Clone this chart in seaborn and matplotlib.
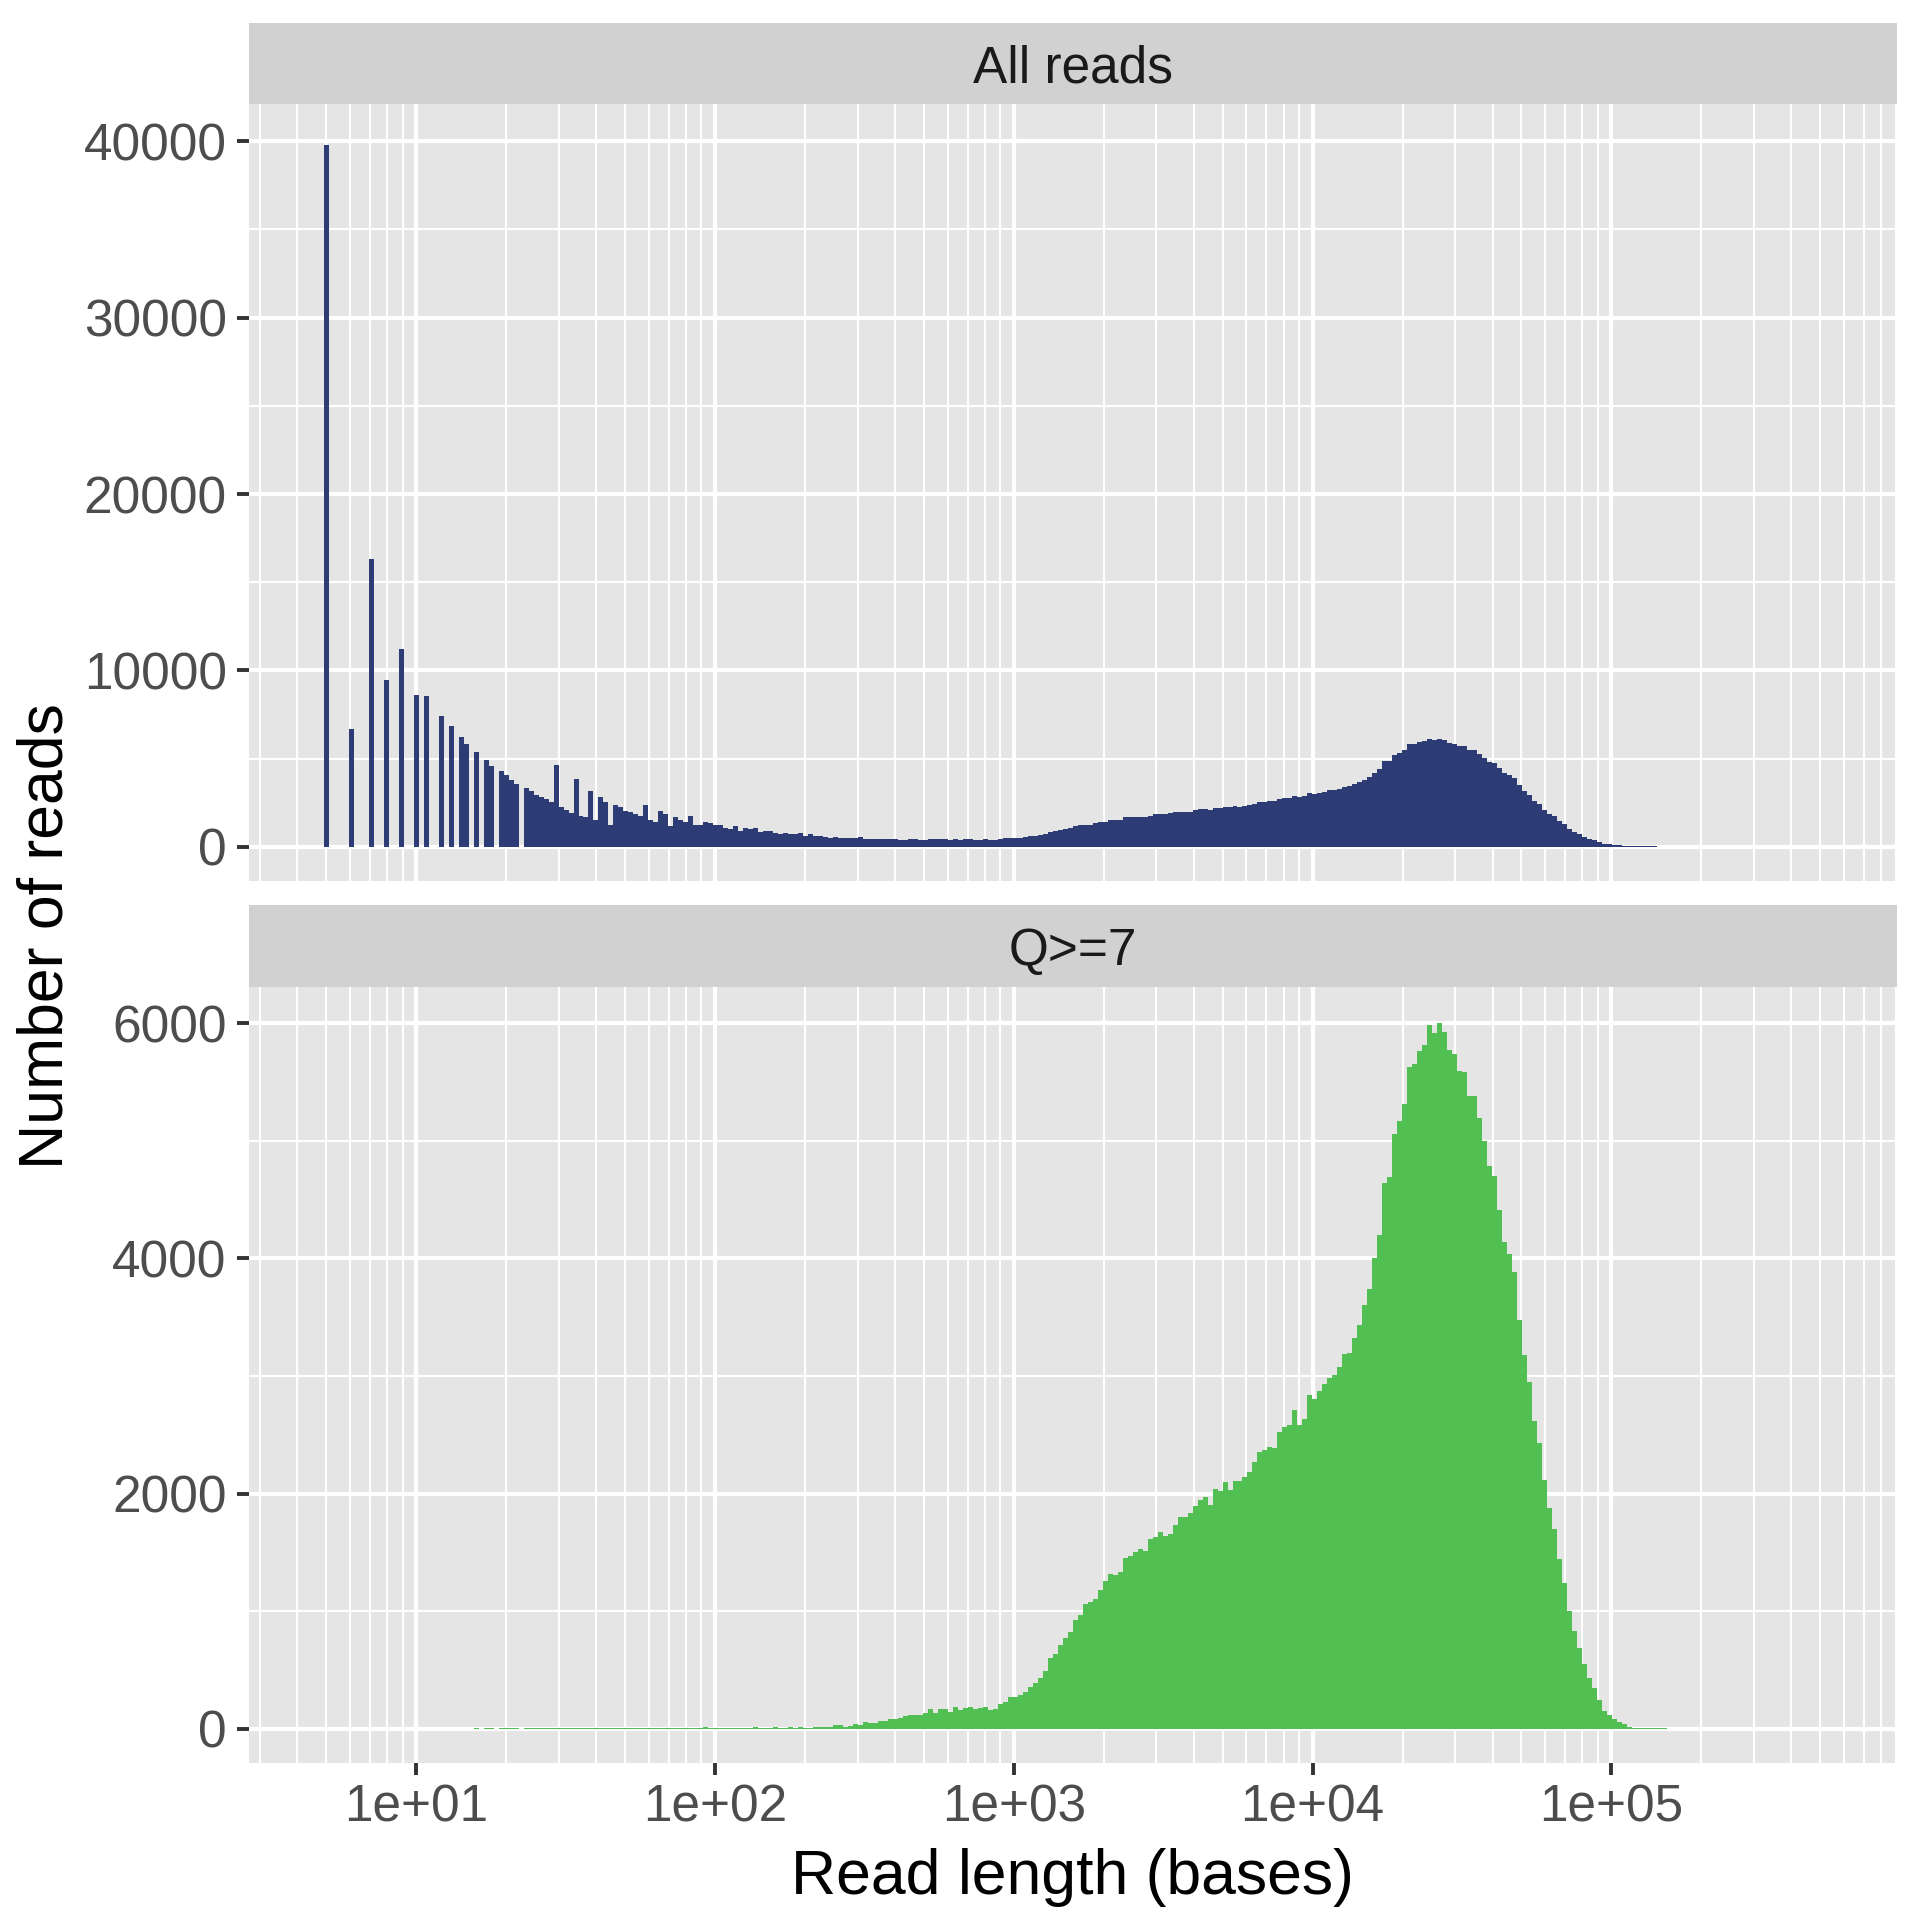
import numpy as np
import matplotlib
matplotlib.use("Agg")
import matplotlib.pyplot as plt
from matplotlib import ticker
import seaborn as sns

# ---------------- data ----------------
panels = ["All reads", "Q>=7"]

# counts per log-spaced length bin (300 bins, ggplot-style geom_histogram(bins = 300))
all_reads_counts = [
    39800, 0, 0, 0, 0, 6690, 0, 0, 0, 16320,
    0, 0, 9440, 0, 0, 11240, 0, 0, 8600, 0,
    8540, 0, 0, 7420, 0, 6850, 0, 6210, 5810, 0,
    5370, 0, 4920, 4580, 0, 4300, 4070, 3790, 3570, 0,
    3340, 3170, 2950, 2840, 2720, 2560, 4630, 2280, 2110, 1940,
    3850, 1770, 1710, 3170, 1540, 2840, 2560, 1260, 2400, 2280,
    2060, 2000, 1890, 1780, 2400, 1550, 1440, 2060, 1840, 1160,
    1670, 1550, 1440, 1780, 1270, 1220, 1440, 1330, 1220, 1220,
    1100, 990, 1160, 880, 1050, 990, 1100, 820, 880, 880,
    770, 710, 770, 710, 710, 770, 600, 710, 600, 600,
    540, 490, 540, 490, 490, 490, 490, 540, 430, 430,
    430, 430, 430, 430, 430, 370, 370, 430, 430, 370,
    370, 430, 430, 430, 430, 370, 430, 370, 430, 430,
    370, 370, 430, 370, 370, 430, 490, 490, 490, 490,
    540, 600, 600, 660, 710, 820, 880, 940, 990, 1050,
    1160, 1220, 1270, 1270, 1330, 1390, 1390, 1500, 1500, 1550,
    1670, 1670, 1720, 1720, 1720, 1780, 1890, 1850, 1890, 1950,
    2000, 2000, 2000, 2000, 2120, 2170, 2170, 2120, 2230, 2230,
    2280, 2280, 2340, 2280, 2340, 2400, 2450, 2570, 2570, 2620,
    2620, 2730, 2790, 2790, 2900, 2850, 2900, 3070, 3010, 3070,
    3130, 3240, 3240, 3300, 3410, 3460, 3580, 3690, 3800, 3970,
    4180, 4420, 4870, 4870, 5210, 5320, 5490, 5820, 5820, 5940,
    6010, 6100, 6050, 6100, 6050, 5880, 5820, 5710, 5710, 5490,
    5490, 5260, 5040, 4810, 4760, 4480, 4190, 4080, 3910, 3520,
    3180, 2960, 2620, 2450, 2120, 1890, 1740, 1480, 1280, 1010,
    845, 730, 550, 435, 375, 260, 160, 150, 100, 90,
    45, 40, 38, 35, 32, 30, 28, 25, 22, 8,
    6, 5, 4, 3, 3, 2, 2, 1, 0, 0,
    0, 0, 0, 0, 0, 0, 0, 0, 0, 0,
    0, 0, 0, 0, 0, 0, 0, 0, 0, 1,
]

q7_counts = [
    0, 0, 0, 0, 0, 0, 0, 0, 0, 0,
    0, 0, 0, 0, 0, 0, 0, 0, 0, 0,
    0, 0, 0, 0, 0, 0, 0, 0, 0, 0,
    4, 0, 4, 4, 0, 5, 4, 5, 4, 0,
    5, 4, 5, 4, 5, 4, 7, 4, 5, 4,
    8, 4, 5, 6, 5, 6, 6, 5, 9, 9,
    9, 9, 9, 9, 9, 9, 9, 9, 9, 9,
    9, 9, 9, 9, 9, 9, 17, 9, 9, 9,
    9, 9, 9, 9, 9, 9, 17, 9, 9, 9,
    17, 9, 9, 17, 9, 17, 9, 9, 17, 17,
    17, 17, 34, 34, 17, 25, 42, 34, 59, 51,
    51, 68, 68, 85, 85, 90, 105, 115, 115, 115,
    138, 165, 134, 165, 165, 142, 182, 158, 176, 182,
    166, 173, 182, 158, 172, 208, 225, 267, 274, 291,
    309, 352, 386, 432, 495, 601, 639, 716, 772, 826,
    928, 970, 1064, 1081, 1105, 1183, 1259, 1315, 1310, 1335,
    1455, 1470, 1500, 1525, 1508, 1615, 1628, 1673, 1640, 1660,
    1730, 1800, 1800, 1833, 1891, 1944, 1969, 1907, 2043, 2022,
    2096, 2035, 2104, 2104, 2145, 2187, 2273, 2355, 2367, 2400,
    2392, 2520, 2565, 2585, 2713, 2585, 2639, 2840, 2807, 2873,
    2931, 2980, 3009, 3074, 3189, 3198, 3325, 3432, 3605, 3744,
    4003, 4200, 4640, 4694, 5060, 5166, 5310, 5631, 5656, 5767,
    5816, 5990, 5918, 6000, 5927, 5775, 5738, 5598, 5590, 5384,
    5384, 5191, 5002, 4788, 4698, 4410, 4143, 4040, 3884, 3477,
    3181, 2951, 2618, 2433, 2113, 1882, 1697, 1443, 1241, 1003,
    830, 690, 551, 436, 345, 242, 148, 115, 82, 58,
    41, 16, 8, 6, 6, 4, 3, 3, 3, 2,
    1, 1, 1, 1, 1, 1, 1, 1, 0, 0,
    0, 0, 0, 0, 0, 0, 0, 0, 0, 0,
    0, 0, 0, 0, 0, 0, 0, 0, 0, 0,
]

x_tick_values = [1e1, 1e2, 1e3, 1e4, 1e5]
x_tick_labels = ["1e+01", "1e+02", "1e+03", "1e+04", "1e+05"]
top_y_ticks = [0, 10000, 20000, 30000, 40000]
bottom_y_ticks = [0, 2000, 4000, 6000]
x_title = "Read length (bases)"
y_title = "Number of reads"

# histogram bin definition (log10 space): shortest read 5 bases, 300 bins
MIN_LENGTH = 5
N_BINS = 300
BIN_W = 0.01671
LOG_MIN = np.log10(MIN_LENGTH)
# representative length of each bin (bin centre)
read_length = 10 ** (LOG_MIN + BIN_W * np.arange(N_BINS))
bin_lo = LOG_MIN - BIN_W / 2
bin_hi = LOG_MIN + (N_BINS - 0.5) * BIN_W
pad = 0.05 * (bin_hi - bin_lo)

NAVY = "#2E3C76"
GREEN = "#51BF51"
PANEL_BG = "#E5E5E5"
STRIP_BG = "#D1D1D1"

# ---------------- styling ----------------
sns.set_theme(style="darkgrid")
plt.rcParams['font.family'] = ['Liberation Sans', 'DejaVu Sans']

W = H = 1920
fig = plt.figure(figsize=(19.2, 19.2), dpi=100)
fig.patch.set_facecolor("white")

PANEL_L, PANEL_R = 249, 1896.5


def add_axes(y0, y1):
    return fig.add_axes([PANEL_L / W, 1 - y1 / H, (PANEL_R - PANEL_L) / W, (y1 - y0) / H])


def make_strip(y0, y1, label):
    s = add_axes(y0, y1)
    s.set_facecolor(STRIP_BG)
    s.set_xticks([]); s.set_yticks([])
    s.grid(False)
    for sp in s.spines.values():
        sp.set_visible(False)
    s.text(0.5, 0.5, label, ha="center", va="center_baseline", fontsize=37,
           color="#1A1A1A", transform=s.transAxes)
    return s


def style_panel(ax, counts, color, yticks, ylim, minor_step, show_x):
    sns.histplot(x=read_length, weights=counts, bins=N_BINS, binrange=(bin_lo, bin_hi),
                 log_scale=True, ax=ax, color=color, alpha=1, linewidth=0,
                 stat="count", element="bars", fill=True, antialiased=False)
    ax.set_facecolor(PANEL_BG)
    ax.set_xlim(10 ** (bin_lo - pad), 10 ** (bin_hi + pad))
    ax.set_ylim(*ylim)
    ax.set_axisbelow(True)
    for sp in ax.spines.values():
        sp.set_visible(False)
    ax.set_xlabel(""); ax.set_ylabel("")
    ax.xaxis.set_major_locator(ticker.FixedLocator(x_tick_values))
    ax.xaxis.set_major_formatter(ticker.FixedFormatter(x_tick_labels))
    ax.xaxis.set_minor_locator(ticker.LogLocator(base=10, subs=np.arange(2, 10), numticks=50))
    ax.xaxis.set_minor_formatter(ticker.NullFormatter())
    ax.yaxis.set_major_locator(ticker.FixedLocator(yticks))
    ax.yaxis.set_major_formatter(ticker.FuncFormatter(lambda v, p: f"{int(round(v))}"))
    ax.yaxis.set_minor_locator(ticker.MultipleLocator(minor_step))
    ax.grid(True, which="major", color="white", linewidth=3.0)
    ax.grid(True, which="minor", color="white", linewidth=1.5)
    ax.tick_params(axis="y", which="major", direction="out", length=8.6, width=2.8,
                   color="#333333", pad=7.5, labelsize=37, labelcolor="#4D4D4D", left=True)
    ax.tick_params(axis="both", which="minor", length=0)
    if show_x:
        ax.tick_params(axis="x", which="major", direction="out", length=8.6, width=2.8,
                       color="#333333", pad=6, labelsize=37, labelcolor="#4D4D4D",
                       bottom=True, labelbottom=True)
    else:
        ax.tick_params(axis="x", which="major", length=0, labelbottom=False)


make_strip(23, 104, panels[0])
ax_top = add_axes(104, 881)
style_panel(ax_top, all_reads_counts, NAVY, top_y_ticks, (-1930, 42100), 5000, False)

make_strip(905, 987, panels[1])
ax_bot = add_axes(987, 1763)
style_panel(ax_bot, q7_counts, GREEN, bottom_y_ticks, (-291, 6309), 1000, True)

fig.text((PANEL_L + PANEL_R) / 2 / W, 1 - 1894 / H, x_title, ha="center", va="baseline",
         fontsize=45, color="black")
fig.text(46.5 / W, 1 - 936 / H, y_title, ha="center", va="center", rotation=90,
         fontsize=45, color="black")

fig.savefig("out.png", dpi=100, facecolor="white")
